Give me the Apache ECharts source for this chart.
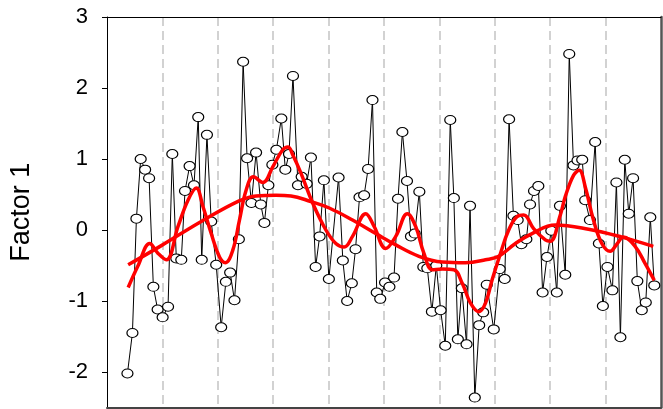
<!DOCTYPE html>
<html>
<head>
<meta charset="utf-8">
<script src="https://cdn.jsdelivr.net/npm/echarts@6/dist/echarts.min.js"></script>
<style>
html,body{margin:0;padding:0;background:#fff;}
#chart{width:663px;height:409px;}
</style>
</head>
<body>
<div id="chart"></div>
<script>
var sampleX = [3.69,4.59,5.31,6.08,6.88,7.60,8.37,9.14,10.04,11.02,11.79,12.51,13.41,14.08,14.91,15.70,16.47,17.10,18.04,18.81,19.71,20.61,21.46,22.23,23.01,23.80,24.57,25.29,26.07,26.91,27.76,28.41,29.13,29.85,30.57,31.47,32.19,32.85,33.57,34.47,35.14,36.04,36.81,37.66,38.38,39.15,40.05,41.80,42.57,43.35,44.19,44.86,45.58,46.41,47.13,47.92,48.69,49.32,50.19,50.98,51.81,52.53,53.32,54.15,54.87,55.54,56.38,57.10,57.82,58.65,59.44,60.22,61.06,61.96,62.61,63.33,64.05,64.90,65.53,66.39,67.18,67.90,68.55,69.81,70.89,71.79,72.58,73.36,74.13,74.80,75.70,76.36,77.08,77.86,78.63,79.42,80.20,81.19,81.76,82.72,83.44,84.21,84.93,85.78,86.32,87.17,88.12,88.79,89.51,90.33,91.23,91.95,92.67,93.46,94.18,94.96,95.73,96.53,97.25,98.07,98.79];
var factor1 = [-2.02,-1.45,0.16,1.00,0.85,0.73,-0.80,-1.12,-1.23,-1.08,1.07,-0.40,-0.42,0.55,0.90,0.63,1.59,-0.42,1.34,0.12,-0.49,-1.37,-0.73,-0.60,-0.99,-0.13,2.37,1.01,0.38,1.09,0.36,0.10,0.63,0.92,1.13,1.57,0.85,1.07,2.17,0.63,0.75,0.65,1.02,-0.52,-0.09,0.70,-0.69,0.74,-0.43,-1.00,-0.75,-0.27,0.46,0.49,0.86,1.83,-0.88,-0.97,-0.74,-0.80,-0.67,0.44,1.38,0.69,-0.09,-0.05,0.54,-0.52,-0.54,-1.15,-0.50,-1.13,-1.63,1.55,0.45,-1.54,-0.82,-1.61,0.34,-2.36,-1.34,-1.16,-0.77,-1.40,-0.55,-0.69,1.56,0.20,0.14,-0.20,-0.13,0.36,0.55,0.62,-0.88,-0.38,-0.01,-0.88,0.34,-0.63,2.48,0.91,0.98,0.99,0.42,0.14,1.24,-0.19,-1.07,-0.52,-0.85,0.67,-1.51,0.99,0.23,0.73,-0.72,-1.13,-1.02,0.18,-0.78];

var broadX = [3.82,9.81,17.01,23.85,26.91,30.51,33.21,36.81,40.11,44.32,48.51,52.12,56.31,60.52,64.72,68.32,70.71,73.72,76.72,80.92,86.91,92.93,98.61];
var broadY = [-0.49,-0.22,0.12,0.41,0.48,0.49,0.48,0.40,0.31,0.14,-0.05,-0.21,-0.37,-0.45,-0.46,-0.42,-0.37,-0.19,-0.05,0.07,0.01,-0.10,-0.23];

var wiggleX = [3.82,5.62,7.70,9.22,10.71,12.82,14.62,16.11,17.32,18.81,20.31,21.39,22.72,23.91,25.11,26.43,28.12,29.92,31.72,32.67,33.52,35.01,37.12,39.51,41.31,42.81,44.32,46.71,48.21,50.31,52.12,54.22,55.71,57.21,58.72,60.52,62.61,64.12,65.62,67.11,68.32,69.52,71.02,72.51,74.02,75.21,77.01,79.12,80.02,81.82,82.72,84.21,85.24,86.32,87.81,89.32,90.82,92.02,93.21,95.32,97.12,98.79];
var wiggleY = [-0.81,-0.50,-0.19,-0.33,-0.42,0.05,0.42,0.59,0.33,-0.05,-0.38,-0.46,-0.28,0.14,0.56,0.75,0.67,0.89,1.13,1.17,1.06,0.80,0.38,0.00,-0.19,-0.24,-0.09,0.23,0.05,-0.26,-0.09,0.23,0.05,-0.33,-0.56,-0.55,-0.56,-0.75,-1.03,-1.15,-1.03,-0.70,-0.33,0.00,0.19,0.21,0.02,-0.14,-0.16,0.21,0.47,0.77,0.84,0.61,0.14,-0.19,-0.30,-0.20,-0.10,-0.23,-0.47,-0.71];

var yTickValues = [-2,-1,0,1,2,3];

function pairs(xs, ys){ var out=[]; for (var i=0;i<xs.length;i++) out.push([xs[i], ys[i]]); return out; }

var chart = echarts.init(document.getElementById('chart'), null, {renderer:'canvas'});
var font = '"Liberation Sans", Arial, sans-serif';
chart.setOption({
  animation: false,
  backgroundColor: '#ffffff',
  grid: {left: 105, right: 2, top: 17, bottom: 1.5, containLabel: false},
  xAxis: [{
    type: 'value', position: 'bottom', min: 0, max: 100, interval: 10,
    axisLine: {show: true, onZero: false, lineStyle: {color: '#444', width: 2}},
    axisTick: {show: false}, axisLabel: {show: false},
    splitLine: {show: true, showMinLine: false, showMaxLine: false, lineStyle: {color: '#c4c4c4', width: 1.5, type: [9, 5]}}
  }, {
    type: 'value', position: 'top', min: 0, max: 100, interval: 10,
    axisLine: {show: true, onZero: false, lineStyle: {color: '#000', width: 1}},
    axisTick: {show: false}, axisLabel: {show: false}, splitLine: {show: false}
  }],
  yAxis: [{
    type: 'value', position: 'left', min: -2.5, max: 3, interval: 0.5,
    name: 'Factor 1', nameLocation: 'middle', nameGap: 72,
    nameTextStyle: {fontSize: 27, color: '#000', fontFamily: font},
    axisLine: {show: true, onZero: false, lineStyle: {color: '#000', width: 1}},
    axisTick: {show: true, length: 5, customValues: yTickValues, lineStyle: {color: '#000', width: 1}},
    axisLabel: {show: true, customValues: yTickValues, margin: 19, fontSize: 22, color: '#000', fontFamily: font},
    splitLine: {show: false}
  }, {
    type: 'value', position: 'right', min: -2.5, max: 3, interval: 0.5,
    axisLine: {show: true, onZero: false, lineStyle: {color: '#555', width: 2.5}},
    axisTick: {show: false}, axisLabel: {show: false}, splitLine: {show: false}
  }],
  series: [{
    type: 'line', name: 'Factor 1', data: pairs(sampleX, factor1), z: 2,
    symbol: 'circle', symbolSize: [11, 9], showAllSymbol: true,
    lineStyle: {color: '#000', width: 1},
    itemStyle: {color: '#fff', borderColor: '#000', borderWidth: 1.1}
  }, {
    type: 'line', name: 'smooth broad', data: pairs(broadX, broadY), z: 3,
    symbol: 'none', smooth: 0.4,
    lineStyle: {color: '#ff0000', width: 3.5}
  }, {
    type: 'line', name: 'smooth fine', data: pairs(wiggleX, wiggleY), z: 4,
    symbol: 'none', smooth: 0.4,
    lineStyle: {color: '#ff0000', width: 3.5}
  }]
});
</script>
</body>
</html>
